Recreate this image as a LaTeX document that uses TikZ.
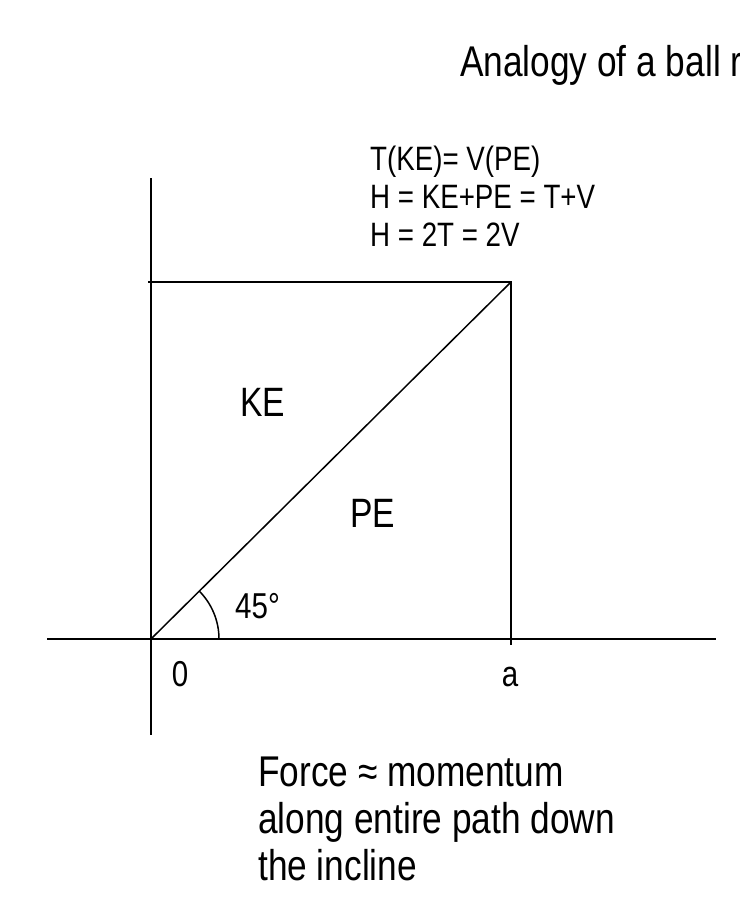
\documentclass[tikz,border=0pt]{standalone}
\usepackage{fontspec}
\setmainfont{Liberation Sans}[FakeStretch=0.82]
\begin{document}
\begin{tikzpicture}[x=1pt,y=-1pt,
  axis/.style={line width=1.8pt},
  thin line/.style={line width=1.5pt},
  lbl/.style={inner sep=0pt,anchor=base west},
  title text/.style={lbl,font=\fontsize{43}{50}\selectfont},
  eq text/.style={lbl,font=\fontsize{33.8}{38}\selectfont,align=left},
  area text/.style={lbl,font=\fontsize{41}{48}\selectfont},
  small text/.style={lbl,font=\fontsize{36}{42}\selectfont},
  note text/.style={lbl,font=\fontsize{43}{49}\selectfont,align=left}]
\useasboundingbox[fill=white] (0,0) rectangle (739,899);
% key points
\coordinate (O) at (151,639);
\coordinate (xl) at (47,639);
\coordinate (xr) at (716,639);
\coordinate (yt) at (151,178);
\coordinate (yb) at (151,735);
\coordinate (tl) at (148,282);
\coordinate (tr) at (511,282);
\coordinate (br) at (511,645);
% axes
\draw[axis] (xl) -- (xr);
\draw[axis] (yt) -- (yb);
% square
\draw[axis] (tl) -- (tr) -- (br);
% diagonal
\draw[thin line] (O) -- (tr);
% angle arc
\draw[thin line] (O) ++(68,0) arc[start angle=0,end angle=-45,radius=68];
% texts
\node[title text] (title) at (460,76) {Analogy of a ball r};
\node[eq text] (eq1) at (370,170) {T(KE)= V(PE)};
\node[eq text] (eq2) at (370,208) {H = KE+PE = T+V};
\node[eq text] (eq3) at (370,246) {H = 2T = 2V};
\node[area text] (ke) at (240,416) {KE};
\node[area text] (pe) at (350,527) {PE};
\node[small text] (ang) at (235,618) {45°};
\node[small text,anchor=base] (zero) at (180,686) {0};
\node[small text,anchor=base] (a) at (510,686) {a};
\node[note text] (n1) at (258,786) {Force ≈ momentum};
\node[note text] (n2) at (258,833) {along entire path down};
\node[note text] (n3) at (258,880) {the incline};
\end{tikzpicture}
\end{document}
